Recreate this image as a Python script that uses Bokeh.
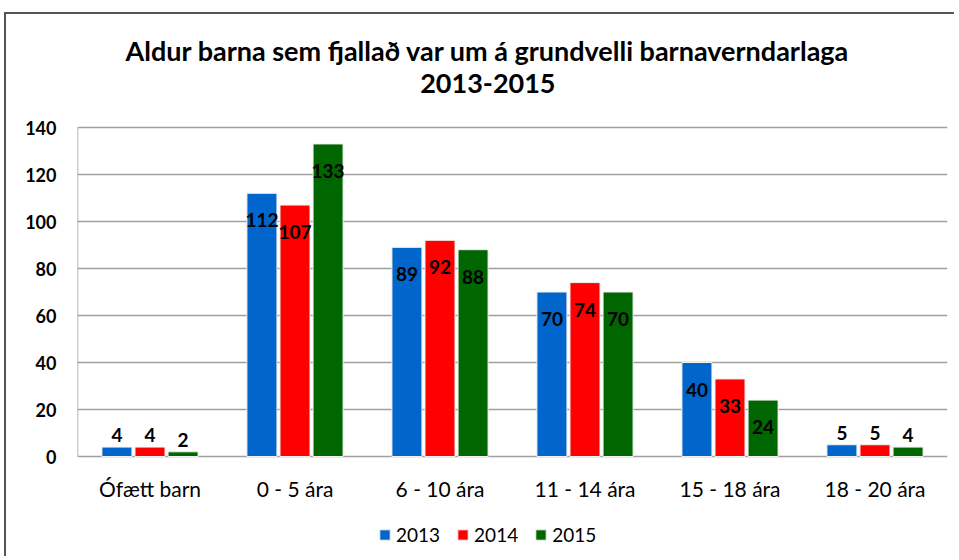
from bokeh.plotting import figure
from bokeh.models import ColumnDataSource, FactorRange, Range1d, Legend, LegendItem
from bokeh.transform import dodge
from bokeh.core.properties import value
from bokeh.embed import file_html
from bokeh.resources import INLINE

categories = ["Ófætt barn", "0 - 5 ára", "6 - 10 ára", "11 - 14 ára", "15 - 18 ára", "18 - 20 ára"]
years = ["2013", "2014", "2015"]
v2013 = [4, 112, 89, 70, 40, 5]
v2014 = [4, 107, 92, 74, 33, 5]
v2015 = [2, 133, 88, 70, 24, 4]
colors = ["#0066CC", "#FF0000", "#006600"]
y_ticks = [0, 20, 40, 60, 80, 100, 120, 140]
title_lines = ["Aldur barna sem fjallað var um á grundvelli barnaverndarlaga", "2013-2015"]

FONT = "Lato"

# layout constants (pixels in the page)
CANVAS_TOP = 14
FRAME_TOP_PX = 14
FRAME_BOTTOM_PX = 556
Y140_PX = 127
Y0_PX = 456
PX_PER_UNIT = (Y0_PX - Y140_PX) / 140.0


def px_to_val(py):
    return (Y0_PX - py) / PX_PER_UNIT


y_start = px_to_val(FRAME_BOTTOM_PX)
y_end = px_to_val(FRAME_TOP_PX)

p = figure(x_range=FactorRange(*categories), y_range=Range1d(y_start, y_end),
           width=950, height=544, output_backend="svg", toolbar_location=None,
           min_border_left=71, min_border_right=9, min_border_top=0, min_border_bottom=2)
p.styles = {"border-left": "2px solid #555555", "border-top": "2px solid #555555",
            "margin-left": "4px", "margin-top": "12px"}

p.outline_line_color = None
p.xaxis.visible = False
p.xgrid.grid_line_color = None
p.ygrid.grid_line_color = "#A0A0A0"
p.ygrid.grid_line_width = 1.5
p.yaxis.ticker = y_ticks
p.yaxis.axis_line_color = None
p.yaxis.major_tick_line_color = None
p.yaxis.minor_tick_line_color = None
p.yaxis.major_tick_out = 0
p.yaxis.major_label_text_font = FONT
p.yaxis.major_label_text_color = "#000000"
p.yaxis.major_label_text_font_size = "18px"
p.yaxis.major_label_text_font_style = "bold"
p.yaxis.major_label_standoff = 21

# left axis line from 0 to 140
axsrc = ColumnDataSource(dict(cat=[categories[0]], y0=[y_ticks[0]], y1=[y_ticks[-1]]))
p.segment(x0=dodge("cat", -0.5, range=p.x_range), x1=dodge("cat", -0.5, range=p.x_range),
          y0="y0", y1="y1", source=axsrc, line_color="#A0A0A0", line_width=1.5)

# title lines
tsrc = ColumnDataSource(dict(cat=[categories[2], categories[2]],
                             y=[px_to_val(50), px_to_val(83)],
                             t=title_lines))
p.text(x=dodge("cat", 0.33, range=p.x_range), y="y", text="t", source=tsrc,
       text_align="center", text_baseline="middle", text_font=value(FONT),
       text_font_size="27px", text_font_style="bold", text_color="#000000")

# category labels
csrc = ColumnDataSource(dict(cat=categories, y=[0] * len(categories)))
p.text(x="cat", y="y", text="cat", source=csrc, y_offset=32,
       text_align="center", text_baseline="middle", text_font=value(FONT),
       text_font_size="21px", text_color="#000000")

offsets = [-0.228, 0.0, 0.228]
series = [v2013, v2014, v2015]
items = []
for yr, vals, col, off in zip(years, series, colors, offsets):
    inside = [v >= 10 for v in vals]
    src = ColumnDataSource(dict(cat=categories, val=vals))
    r = p.vbar(x=dodge("cat", off, range=p.x_range), top="val", width=0.207, source=src,
               fill_color=col, line_color="#F0F0F0", line_width=1)
    items.append(LegendItem(label=yr, renderers=[r]))
    src_in = ColumnDataSource(dict(
        cat=[c for c, i in zip(categories, inside) if i],
        val=[v for v, i in zip(vals, inside) if i],
        lab=[str(v) for v, i in zip(vals, inside) if i]))
    p.text(x=dodge("cat", off, range=p.x_range), y="val", text="lab", source=src_in,
           text_align="center", text_baseline="middle", y_offset=27,
           text_font=value(FONT), text_font_size="19px", text_font_style="bold", text_color="#000000")
    src_out = ColumnDataSource(dict(
        cat=[c for c, i in zip(categories, inside) if not i],
        val=[v for v, i in zip(vals, inside) if not i],
        lab=[str(v) for v, i in zip(vals, inside) if not i]))
    p.text(x=dodge("cat", off, range=p.x_range), y="val", text="lab", source=src_out,
           text_align="center", text_baseline="middle", y_offset=-12,
           text_font=value(FONT), text_font_size="19px", text_font_style="bold", text_color="#000000")

legend = Legend(items=items, orientation="horizontal", location=(301, 10))
legend.border_line_color = None
legend.background_fill_alpha = 0
legend.label_text_font = FONT
legend.label_text_font_size = "19px"
legend.label_text_color = "#000000"
legend.glyph_width = 13
legend.glyph_height = 13
legend.spacing = 16
legend.padding = 0
legend.margin = 0
legend.label_standoff = 5
p.add_layout(legend, "center")

open("out.html", "w").write(file_html(p, INLINE))
